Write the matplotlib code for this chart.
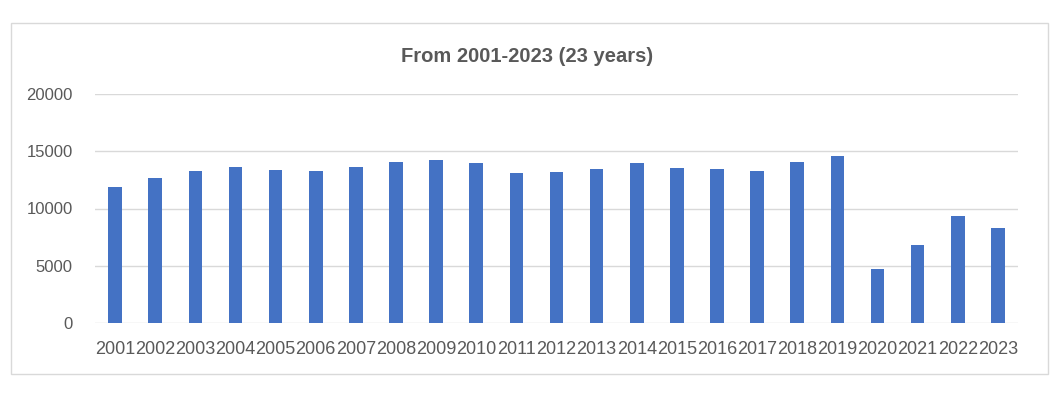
import matplotlib.pyplot as plt
from matplotlib.patches import Rectangle

years = [str(y) for y in range(2001, 2024)]
valores = [11900, 12630, 13240, 13590, 13350, 13270, 13600, 14060, 14230, 13970,
           13100, 13220, 13450, 13970, 13540, 13450, 13270, 14090, 14560,
           4710, 6820, 9360, 8330]
y_ticks = [0, 5000, 10000, 15000, 20000]

gris = '#595959'
plt.rcParams['font.family'] = ['Liberation Sans', 'DejaVu Sans']

fig = plt.figure(figsize=(10.6, 3.99), dpi=100)
ax = fig.add_axes([95 / 1060, 1 - 323 / 399, (1018 - 95) / 1060, (323 - 94) / 399])

# marco del grafico
fig.patches.append(Rectangle((11 / 1060, 1 - 374 / 399), (1048 - 11) / 1060, (374 - 23) / 399,
                             transform=fig.transFigure, fill=False, edgecolor='#D9D9D9', linewidth=1))

ax.bar(range(len(years)), valores, width=0.34, color='#4472C4', zorder=3)
ax.set_xlim(-0.5, len(years) - 0.5)
ax.set_ylim(0, 20000)
ax.set_yticks(y_ticks)
ax.set_yticklabels([str(v) for v in y_ticks])
ax.set_xticks(range(len(years)))
ax.set_xticklabels(years)
ax.grid(axis='y', color='#D9D9D9', linewidth=1, zorder=0)
for s in ax.spines.values():
    s.set_visible(False)
ax.tick_params(axis='both', length=0, labelsize=12, colors=gris)
ax.tick_params(axis='x', pad=13, labelsize=13)
ax.tick_params(axis='y', pad=16)

fig.text(0.497, 1 - 56 / 399, "From 2001-2023 (23 years)", ha='center', va='center',
         fontsize=14.5, fontweight='bold', color=gris)

fig.savefig('out.png', dpi=100)
